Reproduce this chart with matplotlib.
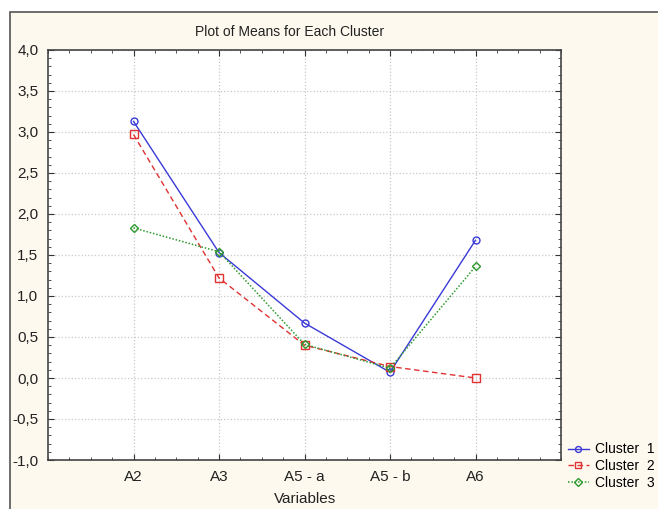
import numpy as np
import matplotlib.pyplot as plt
from matplotlib.patches import Rectangle
from matplotlib.ticker import FuncFormatter, MultipleLocator

plt.rcParams['font.family'] = ['Liberation Sans', 'DejaVu Sans']

variables = ['A2', 'A3', 'A5 - a', 'A5 - b', 'A6']
cluster1 = [3.13, 1.53, 0.67, 0.07, 1.68]
cluster2 = [2.97, 1.22, 0.40, 0.14, 0.00]
cluster3 = [1.83, 1.54, 0.41, 0.12, 1.36]
nombres = ['Cluster  1', 'Cluster  2', 'Cluster  3']

W, H = 658, 509
fig = plt.figure(figsize=(W / 100, H / 100), dpi=100, facecolor='white')

# marco de fondo
fondo = Rectangle((10 / W, -0.01), 1.0, 1 - 12 / H + 0.01, transform=fig.transFigure,
                  facecolor='#fdf9ee', edgecolor='#555555', linewidth=1.2, zorder=-5)
fig.patches.append(fondo)

ax = fig.add_axes([48 / W, 1 - 460 / H, (561 - 48) / W, (460 - 50) / H])
ax.set_zorder(2)
ax.set_facecolor('white')

x = np.arange(1, len(variables) + 1)
ax.plot(x, cluster1, color='#3a3ad8', linestyle='-', linewidth=1.0, marker='o',
        markersize=5, markerfacecolor='none', label=nombres[0])
ax.plot(x, cluster2, color='#e03232', linestyle=(0, (4, 2.5)), linewidth=1.0, marker='s',
        markersize=5.5, markerfacecolor='none', label=nombres[1])
ax.plot(x, cluster3, color='#2e9a2e', linestyle=(0, (1, 1.2)), linewidth=1.1, marker='D',
        markersize=4.5, markerfacecolor='none', label=nombres[2])

ax.set_xlim(0, 6)
ax.set_ylim(-1, 4)
ax.set_xticks(x)
ax.set_xticklabels(variables)
ax.xaxis.set_minor_locator(MultipleLocator(0.25))
ax.yaxis.set_major_locator(MultipleLocator(0.5))
ax.yaxis.set_minor_locator(MultipleLocator(0.1))
ax.yaxis.set_major_formatter(FuncFormatter(lambda v, p: f'{v:.1f}'.replace('.', ',')))

ax.tick_params(which='both', direction='in', top=True, right=True, colors='#333333',
               labelcolor='#222222', labelsize=11)
ax.tick_params(which='major', length=4)
ax.tick_params(which='minor', length=2.5)
ax.tick_params(axis='y', which='major', pad=7)
ax.tick_params(axis='x', which='major', length=4, pad=7)
for s in ax.spines.values():
    s.set_color('#444444')
    s.set_linewidth(1.2)

ax.grid(True, which='major', color='#c8c8c8', linestyle=':', linewidth=0.9)

fig.text(290 / W, 1 - 32 / H, 'Plot of Means for Each Cluster', ha='center', va='center',
         fontsize=10, color='#222222')
fig.text(305 / W, 1 - 499 / H, 'Variables', ha='center', va='center',
         fontsize=11, color='#222222')

leg = ax.legend(loc='lower left', bbox_to_anchor=(568 / W, 1 - 490 / H),
                bbox_transform=fig.transFigure, frameon=False, fontsize=10,
                handlelength=1.5, handletextpad=0.45, labelspacing=0.2,
                borderaxespad=0, borderpad=0, markerscale=0.85)

plt.savefig('out.png', dpi=100, facecolor=fig.get_facecolor())
